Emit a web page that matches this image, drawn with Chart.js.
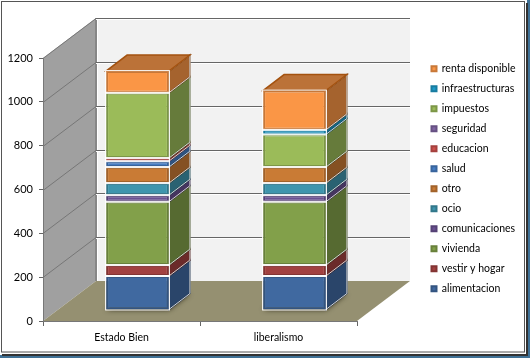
<!DOCTYPE html>
<html>
<head>
<meta charset="utf-8">
<style>
  html, body { margin: 0; padding: 0; background: #fff; }
  #wrap { width: 530px; height: 358px; }
</style>
<script src="https://cdn.jsdelivr.net/npm/chart.js@4"></script>
</head>
<body>
<div id="wrap"><canvas id="myChart" width="530" height="358"></canvas></div>
<script>
const categories = ['Estado Bien', 'liberalismo'];
const yTickStep = 200;
const yMax = 1200;

// values, bottom of the stack first
const alimentacion = [155, 155];
const vestirHogar = [50, 50];
const vivienda = [289, 289];
const comunicaciones = [30, 30];
const ocio = [55, 55];
const otro = [73, 73];
const salud = [27, 0];
const educacion = [14, 0];
const seguridad = [0, 0];
const impuestos = [298, 149];
const infraestructuras = [0, 21];
const rentaDisponible = [99, 179];

const series = [
    { label: 'alimentacion', data: alimentacion, color: [64, 105, 160] },
    { label: 'vestir y hogar', data: vestirHogar, color: [162, 65, 64] },
    { label: 'vivienda', data: vivienda, color: [130, 160, 74] },
    { label: 'comunicaciones', data: comunicaciones, color: [106, 81, 146] },
    { label: 'ocio', data: ocio, color: [63, 149, 173] },
    { label: 'otro', data: otro, color: [201, 123, 53] },
    { label: 'salud', data: salud, color: [70, 125, 195] },
    { label: 'educacion', data: educacion, color: [205, 80, 77] },
    { label: 'seguridad', data: seguridad, color: [128, 100, 162] },
    { label: 'impuestos', data: impuestos, color: [155, 187, 89] },
    { label: 'infraestructuras', data: infraestructuras, color: [30, 155, 200] },
    { label: 'renta disponible', data: rentaDisponible, color: [250, 150, 70] }
];

// 3d look: how far the back wall sits from the axis plane
const wallDx = 53, wallDy = -40;
const barDx = 16, barDy = -11;     // front of the bars, in from the axis plane
const sideDx = 21, sideDy = -16;   // depth of a bar

function shade(c, f) {
    return `rgb(${Math.round(c[0] * f)}, ${Math.round(c[1] * f)}, ${Math.round(c[2] * f)})`;
}

function poly(ctx, pts, fill, stroke, lw) {
    ctx.beginPath();
    pts.forEach((p, i) => i ? ctx.lineTo(p[0], p[1]) : ctx.moveTo(p[0], p[1]));
    ctx.closePath();
    if (fill) { ctx.fillStyle = fill; ctx.fill(); }
    if (stroke) { ctx.strokeStyle = stroke; ctx.lineWidth = lw; ctx.stroke(); }
}

function segments(chart, fn) {
    chart.data.datasets.forEach((ds, d) => {
        chart.getDatasetMeta(d).data.forEach((bar, i) => {
            if (ds.data[i] > 0) {
                fn(bar, series[d], i);
            }
        });
    });
}

const frame3d = {
    id: 'frame3d',
    beforeLayout(chart) {
        // keep the gap between plot and legend
        const lg = chart.legend;
        if (!lg.wideFit) {
            const fit = lg.fit;
            lg.fit = function () {
                fit.call(this);
                this.width = 173;
            };
            lg.wideFit = true;
        }
    },
    afterLayout(chart) {
        const lg = chart.legend;
        lg.left = 422;
        lg.right = 530;
        lg.top = 54;
        lg.bottom = 330;
    },
    beforeDraw(chart) {
        const ctx = chart.ctx;
        const y = chart.scales.y;
        const a = chart.chartArea;
        ctx.save();

        // picture frame
        ctx.fillStyle = '#3f7196';
        ctx.fillRect(527, 0, 3, 358);
        ctx.fillRect(0, 355, 530, 3);
        ctx.fillStyle = '#333';
        ctx.fillRect(2, 354, 526, 2);
        ctx.fillRect(526, 3, 2, 352);
        ctx.strokeStyle = '#555';
        ctx.lineWidth = 1;
        ctx.strokeRect(1.5, 1.5, 523, 350.5);

        const top = y.getPixelForValue(yMax);
        const bot = y.getPixelForValue(0);

        // back wall
        poly(ctx, [[a.left + wallDx, top + wallDy], [a.right + wallDx, top + wallDy], [a.right + wallDx, bot + wallDy], [a.left + wallDx, bot + wallDy]], '#f2f2f2');
        // side wall
        poly(ctx, [[a.left, top], [a.left + wallDx, top + wallDy], [a.left + wallDx, bot + wallDy], [a.left, bot]], '#a0a0a0');
        ctx.fillStyle = '#868686';
        ctx.fillRect(a.left + wallDx - 1, top + wallDy, 2, bot - top);
        ctx.fillStyle = '#fff';
        ctx.fillRect(a.left + wallDx + 1, top + wallDy, 1, bot - top);
        // floor
        poly(ctx, [[a.left, bot], [a.right, bot], [a.right + wallDx, bot + wallDy], [a.left + wallDx, bot + wallDy]], '#959071');

        // grid lines run along the side wall and the back wall
        for (let v = yTickStep; v <= yMax; v += yTickStep) {
            const py = Math.round(y.getPixelForValue(v)) + 0.5;
            ctx.lineWidth = 1;
            ctx.strokeStyle = '#777';
            ctx.beginPath();
            ctx.moveTo(a.left, py);
            ctx.lineTo(a.left + wallDx, py + wallDy);
            ctx.stroke();
            ctx.strokeStyle = '#666';
            ctx.beginPath();
            ctx.moveTo(a.left + wallDx, py + wallDy);
            ctx.lineTo(a.right + wallDx, py + wallDy);
            ctx.stroke();
            ctx.strokeStyle = '#fff';
            ctx.beginPath();
            ctx.moveTo(a.left + wallDx, py + wallDy + 1);
            ctx.lineTo(a.right + wallDx, py + wallDy + 1);
            ctx.stroke();
        }
        ctx.restore();
    },
    beforeDatasetsDraw(chart) {
        const ctx = chart.ctx;
        const y0 = chart.scales.y.getPixelForValue(0);

        ctx.save();
        ctx.translate(barDx, barDy);

        // soft shadow on the floor under each bar
        chart.getDatasetMeta(0).data.forEach(bar => {
            const l = bar.x - bar.width / 2, r = bar.x + bar.width / 2;
            ctx.save();
            ctx.shadowColor = 'rgba(30, 25, 10, 0.8)';
            ctx.shadowBlur = 5;
            poly(ctx, [[l, y0], [r, y0], [r + sideDx, y0 + sideDy], [l + sideDx, y0 + sideDy]], '#55503a');
            ctx.restore();
        });

        // right side of every segment
        segments(chart, (bar, s) => {
            const r = bar.x + bar.width / 2;
            poly(ctx, [[r, bar.y], [r + sideDx, bar.y + sideDy], [r + sideDx, bar.base + sideDy], [r, bar.base]],
                shade(s.color, 0.66), shade(s.color, 0.45), 1.5);
            poly(ctx, [[r, bar.y], [r + sideDx, bar.y + sideDy], [r + sideDx, bar.base + sideDy], [r, bar.base]],
                null, '#fff', 0.8);
        });

        // lid on the highest segment of each bar
        categories.forEach((c, i) => {
            let last = null;
            segments(chart, (bar, s, idx) => {
                if (idx === i && (!last || bar.y < last.y)) {
                    last = bar;
                }
            });
            const l = last.x - last.width / 2, r = last.x + last.width / 2;
            poly(ctx, [[l, last.y], [r, last.y], [r + sideDx, last.y + sideDy], [l + sideDx, last.y + sideDy]],
                '#bb7238', '#a4520f', 1.5);
        });
    },
    afterDatasetsDraw(chart) {
        const ctx = chart.ctx;
        // white outline around the front faces
        ctx.strokeStyle = '#fff';
        ctx.lineWidth = 1;
        segments(chart, bar => {
            ctx.strokeRect(bar.x - bar.width / 2 - 0.5, bar.y - 0.5, bar.width + 1, bar.base - bar.y + 1);
        });
        ctx.restore();
    }
};

const ctx = document.getElementById('myChart').getContext('2d');
const myChart = new Chart(ctx, {
    type: 'bar',
    data: {
        labels: categories,
        datasets: series.map(s => ({
            label: s.label,
            data: s.data,
            backgroundColor: shade(s.color, 1),
            borderColor: shade(s.color, 0.8),
            borderWidth: 2,
            borderSkipped: false,
            categoryPercentage: 1,
            barPercentage: 0.4,
            clip: false
        }))
    },
    options: {
        responsive: false,
        animation: false,
        layout: { padding: { top: 58 } },
        plugins: {
            tooltip: { enabled: false },
            legend: {
                position: 'right',
                align: 'start',
                reverse: true,
                labels: {
                    boxWidth: 5,
                    boxHeight: 5,
                    padding: 9.5,
                    color: '#000',
                    font: { family: 'Lato', size: 10.5 }
                }
            }
        },
        scales: {
            x: {
                stacked: true,
                afterFit(s) { s.height = 37; },
                grid: { drawOnChartArea: false, tickLength: 5, color: '#666' },
                border: { color: '#777' },
                ticks: { color: '#000', font: { family: 'Lato', size: 10.5 }, padding: 5, maxRotation: 0 }
            },
            y: {
                stacked: true,
                min: 0,
                max: yMax,
                afterFit(s) { s.width = 43; },
                grid: { drawOnChartArea: false, tickLength: 4, color: '#666' },
                border: { color: '#777' },
                ticks: { stepSize: yTickStep, color: '#000', font: { family: 'Lato', size: 11 }, padding: 6, callback: v => v }
            }
        }
    },
    plugins: [frame3d]
});
</script>
</body>
</html>
